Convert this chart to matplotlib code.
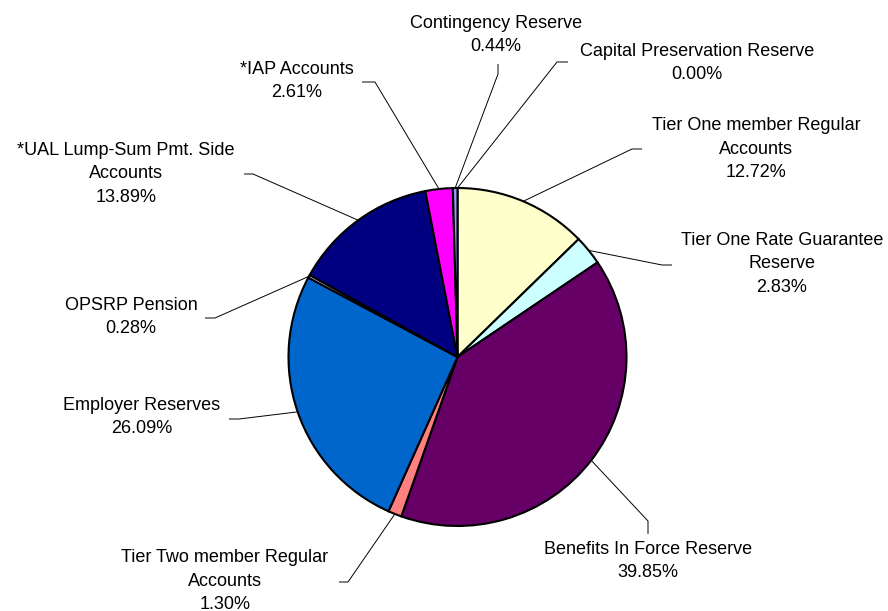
import numpy as np
import matplotlib
matplotlib.use("Agg")
import matplotlib.pyplot as plt

# ---- data (clockwise from 12 o'clock) ----
categories = ["Capital Preservation Reserve", "Tier One member Regular\nAccounts",
              "Tier One Rate Guarantee\nReserve", "Benefits In Force Reserve",
              "Tier Two member Regular\nAccounts", "Employer Reserves",
              "OPSRP Pension", "*UAL Lump-Sum Pmt. Side\nAccounts",
              "*IAP Accounts", "Contingency Reserve"]
values = [0.00, 12.72, 2.83, 39.85, 1.30, 26.09, 0.28, 13.89, 2.61, 0.44]
colors = ["#9999FF", "#FFFFCC", "#CCFFFF", "#660066", "#FF8080", "#0066CC",
          "#CCCCFF", "#000080", "#FF00FF", "#9999FF"]

# ---- layout (pixel coordinates, y down) ----
W, H = 888, 611
cx, cy, R = 457.5, 357, 169
label_pos = [(697, 63), (756, 149), (782, 264), (648, 561), (225, 581),
             (142, 417), (131, 317), (126, 174), (297, 81), (496, 35)]
elbow = [(557, 62), (632, 149), (662, 265), (648, 521), (348, 582),
         (239, 419), (215, 318), (253, 174), (375, 82), (498, 74)]
tick_end = [(568, 62), (642, 149), (672, 265), (648, 534), (339, 582),
            (229, 419), (205, 318), (244, 174), (362, 82), (498, 64)]

fig = plt.figure(figsize=(W / 100, H / 100), dpi=100)
ax = fig.add_axes([0, 0, 1, 1])

wedges, _ = ax.pie(values, colors=colors, startangle=90, counterclock=False,
                   center=(cx, H - cy), radius=R, frame=True,
                   wedgeprops=dict(edgecolor="black", linewidth=1.5))

total = sum(values)
cum = 0.0
for i, v in enumerate(values):
    mid = (cum + v / 2) / total * 360.0
    cum += v
    ang = np.deg2rad(mid)
    sx = cx + R * np.sin(ang)
    sy = cy - R * np.cos(ang)
    ex, ey = elbow[i]
    tx, ty = tick_end[i]
    ax.plot([sx, ex, tx], [H - sy, H - ey, H - ty], color="black", lw=0.7,
            solid_capstyle="butt")
    lx, ly = label_pos[i]
    ax.text(lx, H - ly, f"{categories[i]}\n{v:.2f}%", ha="center", va="center",
            fontsize=13, family=["Liberation Sans", "DejaVu Sans"],
            linespacing=1.5, color="black")

ax.set_xlim(0, W)
ax.set_ylim(0, H)
ax.set_aspect("equal")
ax.axis("off")

fig.savefig("out.png", dpi=100)
